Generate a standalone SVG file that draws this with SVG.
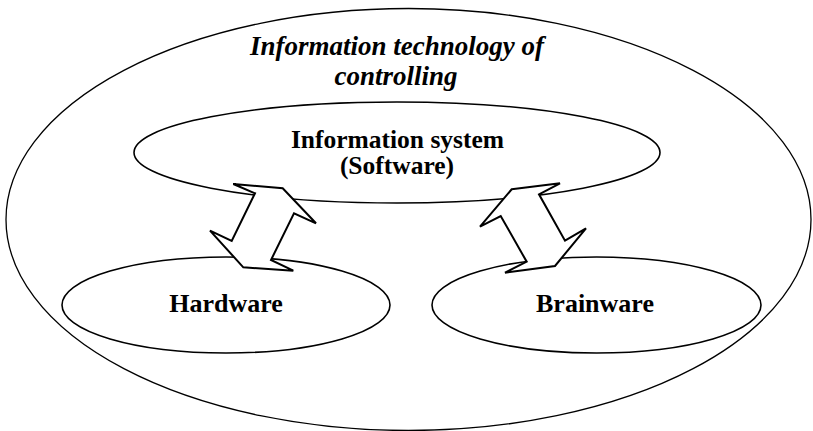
<svg xmlns="http://www.w3.org/2000/svg" width="813" height="431" viewBox="0 0 813 431">
<style>
.shape{fill:#fff;stroke:#000;stroke-width:1.6}
.outer{fill:#fff;stroke:#000;stroke-width:1.3}
.arrow{fill:#fff;stroke:#000;stroke-width:2;stroke-linejoin:miter}
.t{font-family:"Liberation Serif","Times New Roman",Times,"DejaVu Serif",serif;font-size:26px;text-anchor:middle;fill:#000;font-weight:bold}
.s{font-size:25.5px}
.ital{font-style:italic;font-size:27px}
</style>
<g id="it-controlling">
<ellipse class="outer" cx="408.5" cy="219.5" rx="402.5" ry="211"/>
<text class="t ital" x="397" y="55">Information technology of</text>
<text class="t ital" x="396" y="85">controlling</text>
</g>
<g id="information-system">
<ellipse class="shape" cx="397" cy="152.5" rx="263" ry="50.5"/>
<text class="t s" x="397.5" y="147.5">Information system</text>
<text class="t s" x="397" y="174">(Software)</text>
</g>
<g id="hardware">
<ellipse class="shape" cx="226" cy="305" rx="164" ry="48"/>
<text class="t" x="226" y="312">Hardware</text>
</g>
<g id="brainware">
<ellipse class="shape" cx="596.5" cy="305" rx="164.5" ry="48"/>
<text class="t" x="595" y="312">Brainware</text>
</g>
<g id="connectors">
<polygon class="arrow" points="233.3,184 282.7,188.3 316,223.3 294,213.3 271,260 293.3,270.7 243.3,267.3 210,230.7 231.7,241 255,193.3"/>
<polygon class="arrow" points="511.7,189.3 560,183.3 539,194.3 565,240.7 586,228.3 555,266 505,272.7 526.7,261.7 500.7,216 480,226.7"/>
</g>
</svg>
